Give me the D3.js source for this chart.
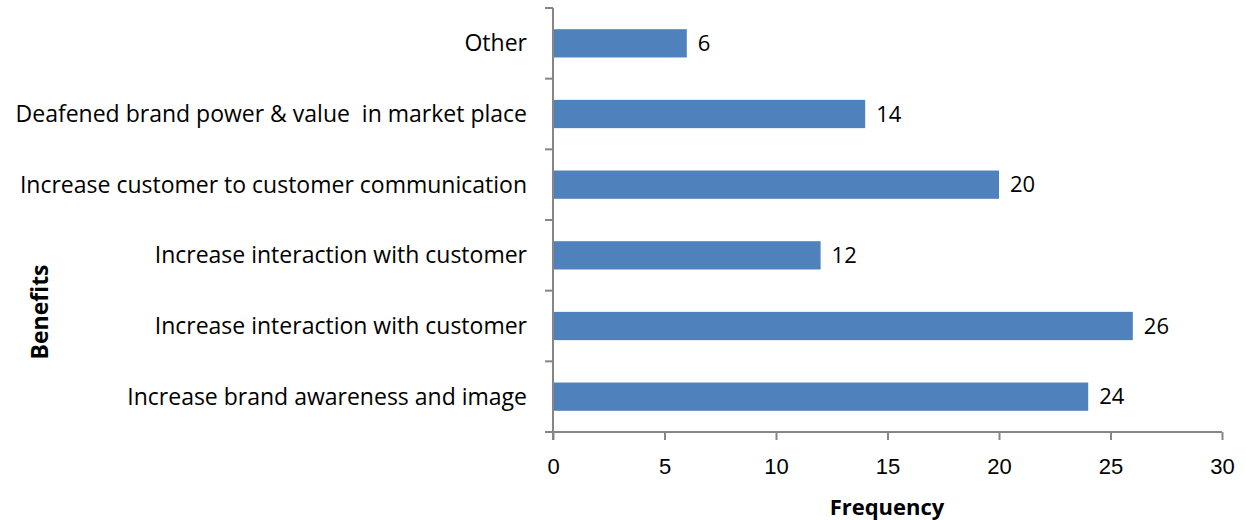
<!DOCTYPE html>
<html>
<head>
<meta charset="utf-8">
<script src="https://cdn.jsdelivr.net/npm/d3@7"></script>
<style>
  html, body { margin: 0; padding: 0; background: #fff; }
  svg { display: block; font-family: "Open Sans", "Noto Sans", sans-serif; }
</style>
</head>
<body>
<svg id="chart" width="1246" height="520"></svg>
<script>
// Benefits and how often each was mentioned (top to bottom)
const categories = [
  "Other",
  "Deafened brand power & value  in market place",
  "Increase customer to customer communication",
  "Increase interaction with customer",
  "Increase interaction with customer",
  "Increase brand awareness and image"
];
const frequency = [6, 14, 20, 12, 26, 24];
const xTicks = [0, 5, 10, 15, 20, 25, 30];

const svg = d3.select("#chart");
const plotLeft = 553, plotRight = 1222, plotTop = 8, plotBottom = 432;
const axisColor = "#868686";
const barColor = "#4F81BD";

const x = d3.scaleLinear().domain([0, 30]).range([plotLeft, plotRight]);
const y = d3.scaleBand().domain(d3.range(categories.length)).range([plotTop, plotBottom]).paddingInner(0.6).paddingOuter(0.3);

// bars
svg.append("g").selectAll("rect")
  .data(frequency)
  .join("rect")
  .attr("x", x(0))
  .attr("y", (d, i) => y(i))
  .attr("width", d => x(d) - x(0))
  .attr("height", y.bandwidth())
  .attr("fill", barColor);

// value labels
svg.append("g").selectAll("text")
  .data(frequency)
  .join("text")
  .attr("x", d => x(d) + 11)
  .attr("y", (d, i) => y(i) + y.bandwidth() / 2)
  .attr("dy", "0.35em")
  .attr("font-size", 22)
  .attr("fill", "#000")
  .text(d => d);

// x axis
const xAxis = svg.append("g")
  .attr("transform", `translate(0,${plotBottom})`)
  .call(d3.axisBottom(x).tickValues(xTicks).tickSize(8).tickSizeOuter(0).tickPadding(18));
xAxis.select(".domain").attr("stroke", axisColor).attr("stroke-width", 2).attr("d", `M${plotLeft - 8},0H${plotRight}`);
xAxis.selectAll(".tick line").attr("stroke", axisColor).attr("stroke-width", 2);
xAxis.selectAll(".tick text").attr("font-size", 22).attr("fill", "#000").attr("font-family", null);

// y axis: line with boundary ticks between categories
const yg = svg.append("g");
yg.append("line")
  .attr("x1", plotLeft).attr("x2", plotLeft)
  .attr("y1", plotTop).attr("y2", plotBottom + 8)
  .attr("stroke", axisColor).attr("stroke-width", 2);
const step = (plotBottom - plotTop) / categories.length;
yg.selectAll("line.b")
  .data(d3.range(categories.length))
  .join("line")
  .attr("class", "b")
  .attr("x1", plotLeft - 8).attr("x2", plotLeft)
  .attr("y1", i => plotTop + i * step).attr("y2", i => plotTop + i * step)
  .attr("stroke", axisColor).attr("stroke-width", 2);

// category labels
yg.selectAll("text")
  .data(categories)
  .join("text")
  .attr("x", 527)
  .attr("y", (d, i) => y(i) + y.bandwidth() / 2)
  .attr("dy", "0.35em")
  .attr("text-anchor", "end")
  .attr("font-size", 23)
  .attr("fill", "#000")
  .style("white-space", "pre")
  .text(d => d);

// axis titles
svg.append("text")
  .attr("x", 887)
  .attr("y", 507)
  .attr("dy", "0.35em")
  .attr("text-anchor", "middle")
  .attr("font-size", 22)
  .attr("font-weight", "bold")
  .text("Frequency");

svg.append("text")
  .attr("transform", "translate(40,312) rotate(-90)")
  .attr("dy", "0.35em")
  .attr("text-anchor", "middle")
  .attr("font-size", 23)
  .attr("font-weight", "bold")
  .text("Benefits");
</script>
</body>
</html>
